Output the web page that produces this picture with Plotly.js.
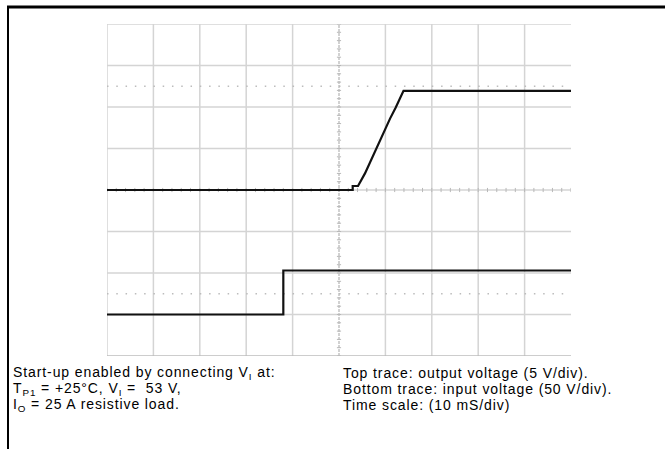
<!DOCTYPE html>
<html>
<head>
<meta charset="utf-8">
<script src="https://cdn.plot.ly/plotly-3.0.1.min.js"></script>
<style>
html,body{margin:0;padding:0;background:#fff;}
#chart{width:665px;height:449px;}
#chart .annotation-text{letter-spacing:0.9px;}
</style>
</head>
<body>
<div id="chart"></div>
<script>
// ---- data ----
// time in ms (10 ms/div, screen centre = 0 ms)
const timeTop = [-50, 2.95, 2.95, 4.1, 5.6, 7.4, 9.3, 11.0, 12.2, 13.1, 13.9, 50];
// output voltage in V (5 V/div), ground reference at centre line
const voutTop = [0, 0, 0.48, 0.48, 2.0, 4.2, 6.6, 8.6, 9.9, 11.0, 11.95, 11.95];
// input voltage trace
const timeBottom = [-50, -12, -12, 50];
const vinBottom = [0, 0, 53, 53];          // V (50 V/div)
// channel settings
const outVoltsPerDiv = 5, outRefDiv = 0;
const inVoltsPerDiv = 50, inRefDiv = -3;
const markerLevels = [2.5, -2.5];          // dotted reference markers (div)
const captionLeft = [
  "Start-up enabled by connecting V<sub>I</sub> at:",
  "T<sub>P1</sub> = +25°C, V<sub>I</sub> =  53 V,",
  "I<sub>O</sub> = 25 A resistive load."
];
const captionRight = [
  "Top trace: output voltage (5 V/div).",
  "Bottom trace: input voltage (50 V/div).",
  "Time scale: (10 mS/div)"
];

// ---- geometry ----
const W = 665, H = 449;
const L = 107, R = 571, T = 24, B = 356;
const pw = R - L, ph = B - T;
const px2paperX = p => (p - L) / pw;
const px2paperY = p => (B - p) / ph;

const yTop = voutTop.map(v => v / outVoltsPerDiv + outRefDiv);
const yBottom = vinBottom.map(v => v / inVoltsPerDiv + inRefDiv);

const gridColor = '#d4d4d4';
const shapes = [];
// vertical grid lines
for (let i = 0; i < 10; i++) {
  const x = -50 + i * 10;
  shapes.push({type:'line', layer:'below', x0:x, x1:x, y0:-4, y1:4,
    line:{color: i === 5 ? '#c4c4c4' : gridColor, width:1.5, dash: i === 5 ? '3px,1px' : 'solid'}});
}
// horizontal grid lines
for (let j = 0; j <= 8; j++) {
  const y = -4 + j;
  shapes.push({type:'line', layer:'below', x0:-50, x1:50, y0:y, y1:y,
    line:{color: j === 0 ? '#bdbdbd' : gridColor, width:1.5}});
}
// dotted marker lines
markerLevels.forEach(y => {
  shapes.push({type:'line', layer:'below', x0:-50, x1:50, y0:y, y1:y,
    line:{color:'#bcbcbc', width:1.5, dash:'1.5px,7.78px'}});
});
// centre-axis minor ticks
for (let k = -20; k <= 20; k++) {
  const y = k * 0.2;
  shapes.push({type:'line', layer:'below', x0:-0.45, x1:0.45, y0:y, y1:y,
    line:{color:'#b8b8b8', width:1}});
}
for (let k = -25; k <= 25; k++) {
  const x = k * 2;
  shapes.push({type:'line', layer:'below', x0:x, x1:x, y0:-0.05, y1:0.05,
    line:{color:'#b8b8b8', width:1}});
}
// trigger marker under the graticule
shapes.push({type:'line', x0:timeBottom[1], x1:timeBottom[1], y0:-4, y1:-4.08,
  line:{color:'#777', width:1.2}});
// outer frame (top and left)
shapes.push({type:'line', xref:'paper', yref:'paper',
  x0:px2paperX(7), x1:px2paperX(W), y0:px2paperY(7), y1:px2paperY(7),
  line:{color:'#000', width:3}});
shapes.push({type:'line', xref:'paper', yref:'paper',
  x0:px2paperX(8), x1:px2paperX(8), y0:px2paperY(6), y1:px2paperY(H),
  line:{color:'#000', width:2}});

const annotations = [];
const lineY = [373, 389, 405];
const capFont = {family:'Liberation Sans, Arial, sans-serif', size:14, color:'#000'};
captionLeft.forEach((t, i) => annotations.push({
  text:t, xref:'paper', yref:'paper', x:px2paperX(11), y:px2paperY(lineY[i]),
  xanchor:'left', yanchor:'middle', showarrow:false, align:'left', font:capFont
}));
captionRight.forEach((t, i) => annotations.push({
  text:t, xref:'paper', yref:'paper', x:px2paperX(341), y:px2paperY(lineY[i]),
  xanchor:'left', yanchor:'middle', showarrow:false, align:'left', font:capFont
}));

const traces = [
  {x: timeTop, y: yTop, mode:'lines', line:{color:'#111', width:2.2}, hoverinfo:'skip'},
  {x: timeBottom, y: yBottom, mode:'lines', line:{color:'#111', width:2.2}, hoverinfo:'skip'}
];

const layout = {
  width: W, height: H,
  margin: {l:L, r:W-R, t:T, b:H-B, pad:0},
  paper_bgcolor:'#fff', plot_bgcolor:'#fff',
  showlegend:false,
  xaxis:{range:[-50,50], showgrid:false, zeroline:false, showticklabels:false, ticks:'', showline:false, fixedrange:true},
  yaxis:{range:[-4,4], showgrid:false, zeroline:false, showticklabels:false, ticks:'', showline:false, fixedrange:true},
  shapes: shapes,
  annotations: annotations
};

Plotly.newPlot('chart', traces, layout, {staticPlot:true, displayModeBar:false});
</script>
</body>
</html>
